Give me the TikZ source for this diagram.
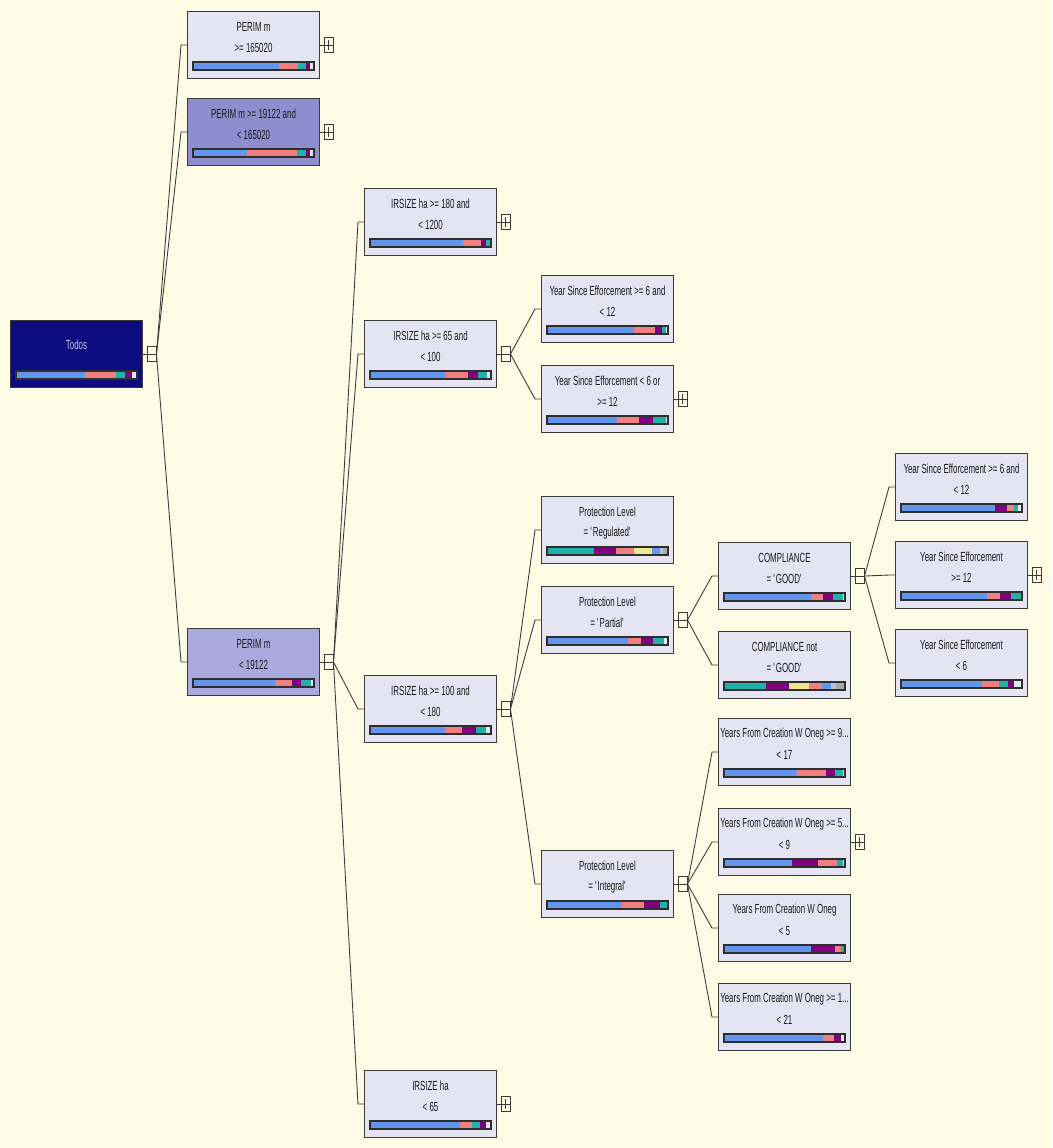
\documentclass[tikz,border=0pt]{standalone}
\usepackage{fontspec}
\newfontfamily\treefont[FakeStretch=0.6]{Liberation Sans}
\usepackage{tikz}
\usetikzlibrary{calc}
\definecolor{paper}{HTML}{FFFCE6}
\definecolor{edge}{HTML}{3A3A3A}
\definecolor{pale}{HTML}{E4E4F2}
\definecolor{deep}{HTML}{0C0C80}
\definecolor{mid}{HTML}{8E8ECE}
\definecolor{soft}{HTML}{A9A9DE}
\definecolor{ink}{HTML}{1A1A1A}
\definecolor{blu}{HTML}{6495ED}
\definecolor{sal}{HTML}{F08080}
\definecolor{pur}{HTML}{800080}
\definecolor{tea}{HTML}{20B2AA}
\definecolor{kha}{HTML}{F0E68C}
\definecolor{lit}{HTML}{E6E6EE}
\definecolor{sky}{HTML}{B0C4DE}
\definecolor{gry}{HTML}{A8A8A8}
\definecolor{dim}{HTML}{C4C4EE}
\tikzset{
  box/.style={draw=edge, fill=pale, line width=0.6pt, minimum width=2.64cm, minimum height=1.34cm, inner sep=0pt, anchor=north west},
  lab/.style={text=ink, font=\treefont\fontsize{7.5}{8}\selectfont, inner sep=0pt},
  link/.style={draw=edge, line width=0.5pt},
  knob/.style={draw=edge, fill=paper, line width=0.5pt, minimum width=0.18cm, minimum height=0.3cm, inner sep=0pt},
  baredge/.style={draw=edge!80!black, line width=0.9pt},
}
\newcommand{\treebox}[6]{%
  \node[box,#4] (#1) at (#2,#3) {};
  \node[lab] at ($(#1.north)+(0,16)$) {#5};
  \node[lab] at ($(#1.north)+(0,37)$) {#6};
}
\newcommand{\propbar}[2]{%
  \foreach \c/\w [remember=\e as \s (initially 0), evaluate=\w as \e using \s+\w] in {#2}
    \fill[\c] ($(#1.north west)+(6+121*\s,51)$) rectangle ($(#1.north west)+(6+121*\e,59)$);
  \draw[baredge] ($(#1.north west)+(6,51)$) rectangle ($(#1.north west)+(127,59)$);
}
\newcommand{\fold}[1]{%
  \node[knob] (#1-k) at ($(#1.east)+(8.5,0)$) {};
  \draw[link] (#1.east) -- (#1-k.east);
}
\newcommand{\unfold}[1]{%
  \fold{#1}
  \draw[link] ($(#1-k.north)+(0,3)$) -- ($(#1-k.south)+(0,-3)$);
}
\newcommand{\branch}[2]{\draw[link] (#1-k.east) -- ($(#2.west)+(-6,0)$) -- (#2.west);}

\begin{document}
\begin{tikzpicture}[x=0.02cm, y=-0.02cm]
  \fill[paper] (0,0) rectangle (1052,1148);
  \useasboundingbox (0,0) rectangle (1052,1148);

  \node[box, fill=deep] (root) at (10,320) {};
  \node[lab, text=dim] at ($(root.north)+(0,25)$) {Todos};
  \propbar{root}{blu/.57, sal/.26, tea/.07, pur/.06, lit/.04}

  \treebox{p1}{187}{11}{}{PERIM m}{>= 165020}
  \treebox{p2}{187}{98}{fill=mid}{PERIM m >= 19122 and}{< 165020}
  \treebox{p3}{187}{628}{fill=soft}{PERIM m}{< 19122}
  \propbar{p1}{blu/.71, sal/.16, tea/.065, pur/.033, lit/.032}
  \propbar{p2}{blu/.45, sal/.41, tea/.07, pur/.035, lit/.035}
  \propbar{p3}{blu/.68, sal/.14, pur/.075, tea/.08, lit/.025}

  \treebox{i1}{364}{188}{}{IRSIZE ha >= 180 and}{< 1200}
  \treebox{i2}{364}{320}{}{IRSIZE ha >= 65 and}{< 100}
  \treebox{i3}{364}{675}{}{IRSIZE ha >= 100 and}{< 180}
  \treebox{i4}{364}{1070}{}{IRSIZE ha}{< 65}
  \propbar{i1}{blu/.77, sal/.15, pur/.035, tea/.035, lit/.01}
  \propbar{i2}{blu/.63, sal/.18, pur/.08, tea/.08, lit/.03}
  \propbar{i3}{blu/.62, sal/.14, pur/.12, tea/.08, lit/.04}
  \propbar{i4}{blu/.74, sal/.10, tea/.07, pur/.045, lit/.045}

  \treebox{y1}{541}{275}{}{Year Since Efforcement >= 6 and}{< 12}
  \treebox{y2}{541}{365}{}{Year Since Efforcement < 6 or}{>= 12}
  \treebox{l1}{541}{496}{}{Protection Level}{= \textquotesingle Regulated\textquotesingle}
  \treebox{l2}{541}{586}{}{Protection Level}{= \textquotesingle Partial\textquotesingle}
  \treebox{l3}{541}{850}{}{Protection Level}{= \textquotesingle Integral\textquotesingle}
  \propbar{y1}{blu/.72, sal/.17, pur/.06, tea/.03, lit/.02}
  \propbar{y2}{blu/.58, sal/.18, pur/.12, tea/.10, lit/.02}
  \propbar{l1}{tea/.39, pur/.18, sal/.15, kha/.15, blu/.06, sky/.03, gry/.04}
  \propbar{l2}{blu/.67, sal/.105, pur/.10, tea/.095, lit/.03}
  \propbar{l3}{blu/.62, sal/.18, pur/.13, tea/.06, lit/.01}

  \treebox{c1}{718}{542}{}{COMPLIANCE}{= \textquotesingle GOOD\textquotesingle}
  \treebox{c2}{718}{631}{}{COMPLIANCE not}{= \textquotesingle GOOD\textquotesingle}
  \treebox{w1}{718}{718}{}{Years From Creation W Oneg >= 9...}{< 17}
  \treebox{w2}{718}{808}{}{Years From Creation W Oneg >= 5...}{< 9}
  \treebox{w3}{718}{894}{}{Years From Creation W Oneg}{< 5}
  \treebox{w4}{718}{983}{}{Years From Creation W Oneg >= 1...}{< 21}
  \propbar{c1}{blu/.72, sal/.10, pur/.08, tea/.08, lit/.02}
  \propbar{c2}{tea/.35, pur/.19, kha/.16, sal/.11, blu/.075, sky/.04, gry/.075}
  \propbar{w1}{blu/.60, sal/.24, pur/.075, tea/.065, lit/.02}
  \propbar{w2}{blu/.56, pur/.22, sal/.155, tea/.045, lit/.02}
  \propbar{w3}{blu/.72, pur/.20, sal/.05, tea/.03}
  \propbar{w4}{blu/.82, sal/.09, pur/.055, lit/.035}

  \treebox{s1}{895}{453}{}{Year Since Efforcement >= 6 and}{< 12}
  \treebox{s2}{895}{541}{}{Year Since Efforcement}{>= 12}
  \treebox{s3}{895}{629}{}{Year Since Efforcement}{< 6}
  \propbar{s1}{blu/.78, pur/.10, sal/.05, tea/.04, lit/.03}
  \propbar{s2}{blu/.71, sal/.11, pur/.085, tea/.095}
  \propbar{s3}{blu/.67, sal/.14, tea/.075, pur/.05, lit/.065}

  \fold{root} \fold{p3} \fold{i2} \fold{i3} \fold{l2} \fold{l3} \fold{c1}
  \unfold{p1} \unfold{p2} \unfold{i1} \unfold{i4} \unfold{y2} \unfold{w2} \unfold{s2}

  \branch{root}{p1} \branch{root}{p2} \branch{root}{p3}
  \branch{p3}{i1} \branch{p3}{i2} \branch{p3}{i3} \branch{p3}{i4}
  \branch{i2}{y1} \branch{i2}{y2}
  \branch{i3}{l1} \branch{i3}{l2} \branch{i3}{l3}
  \branch{l2}{c1} \branch{l2}{c2}
  \branch{l3}{w1} \branch{l3}{w2} \branch{l3}{w3} \branch{l3}{w4}
  \branch{c1}{s1} \branch{c1}{s2} \branch{c1}{s3}
\end{tikzpicture}
\end{document}
